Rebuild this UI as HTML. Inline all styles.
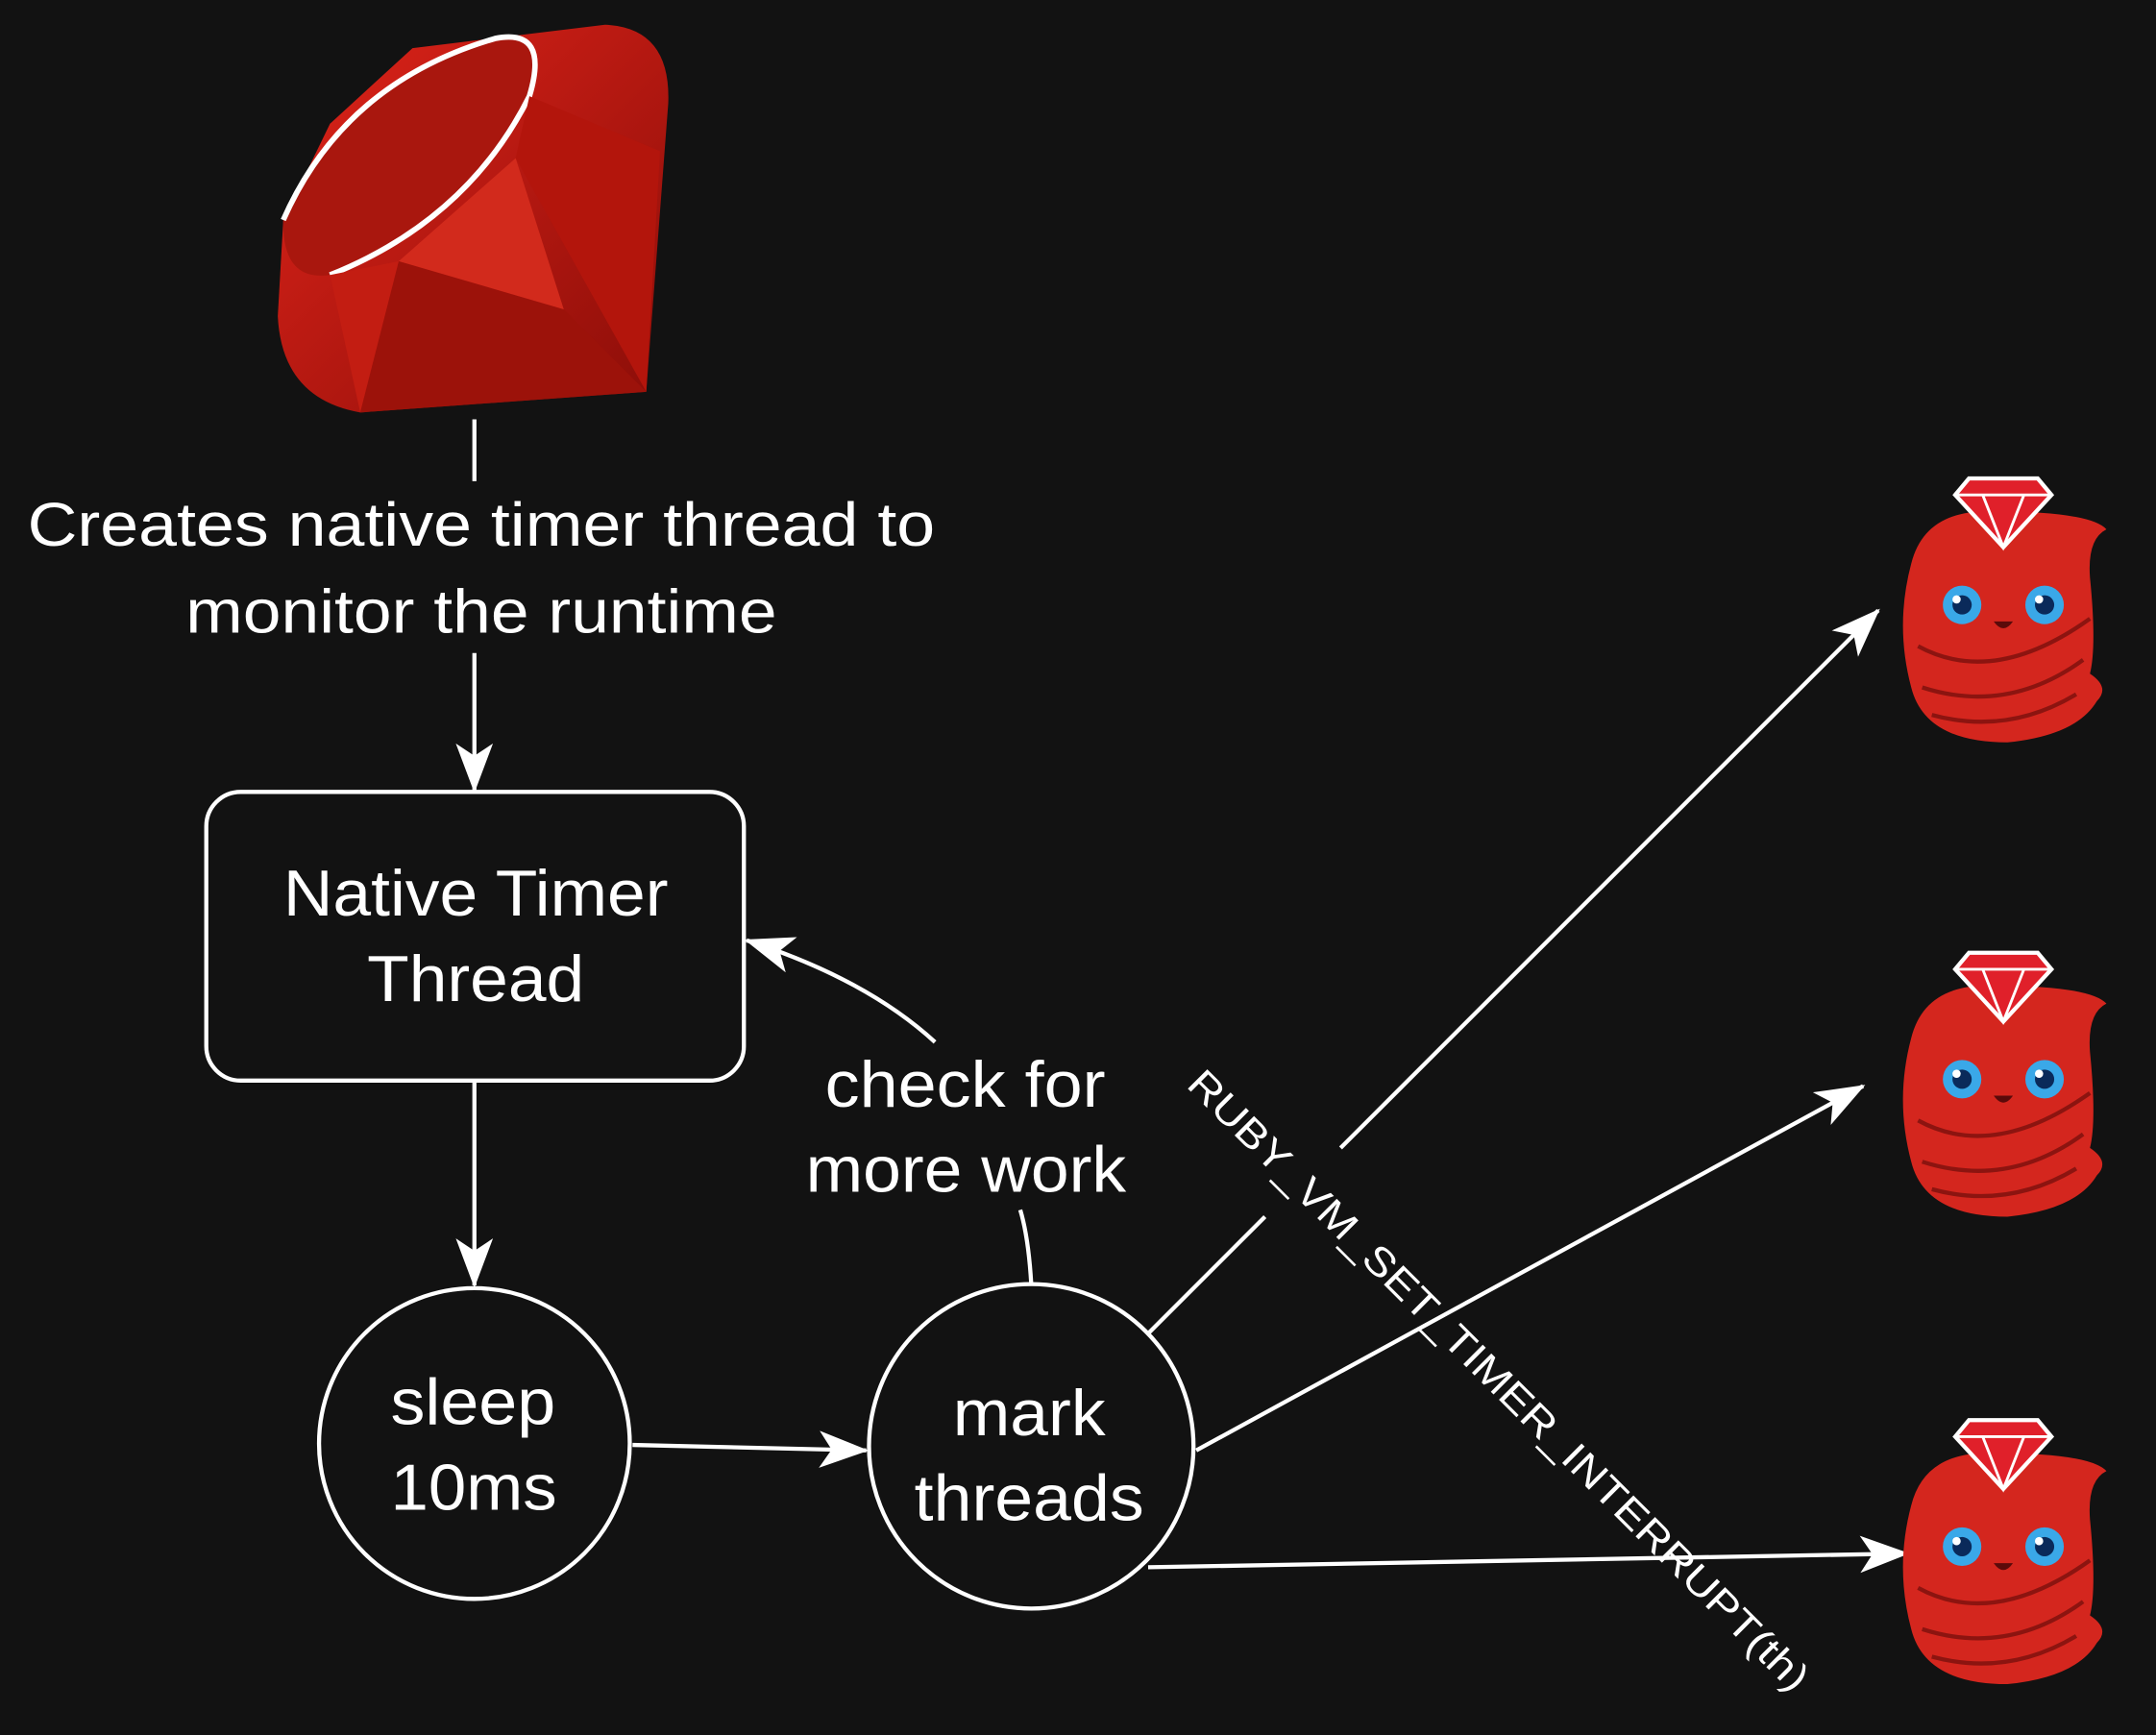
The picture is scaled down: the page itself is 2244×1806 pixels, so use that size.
<!DOCTYPE html>
<html><head><meta charset="utf-8"><style>
html,body{margin:0;padding:0;background:#121212;}
svg{display:block}
text{font-family:"Liberation Sans",Arial,sans-serif;fill:#fff}
</style></head><body>
<svg width="2244" height="1806" viewBox="0 0 1568 1262" xmlns="http://www.w3.org/2000/svg">
<defs>
<marker id="ah" viewBox="0 0 20 15" markerWidth="36" markerHeight="27" refX="19" refY="7.5" orient="auto" markerUnits="userSpaceOnUse">
<path d="M0,0 L20,7.5 L0,15 L5,7.5 Z" fill="#fff"/>
</marker>
<linearGradient id="rg" x1="0" y1="0" x2="1" y2="1">
<stop offset="0" stop-color="#e0241a"/><stop offset="1" stop-color="#8a0d08"/>
</linearGradient>
</defs>
<rect width="1568" height="1262" fill="#121212"/>

<g>
<path d="M300,35 L440,18 Q488,20 486,75 L470,285 L262,300 Q205,290 202,230 L206,160 L240,90 Z" fill="url(#rg)"/>
<path d="M206,160 Q250,60 360,28 Q400,20 385,70 Q340,160 240,200 Q205,205 206,160 Z" fill="#a9170e"/>
<path d="M206,160 Q250,60 360,28 Q400,20 385,70 Q340,160 240,200" fill="none" stroke="#fff" stroke-width="4"/>
<path d="M385,70 L480,110 L470,285 L375,115 Z" fill="#b3150c"/>
<path d="M240,200 L262,300 L290,190 Z" fill="#c31d12"/>
<path d="M290,190 L410,225 L470,285 L262,300 Z" fill="#9c120a"/>
<path d="M375,115 L410,225 L290,190 Z" fill="#d22a1c"/>
</g>

<line x1="345" y1="305" x2="345" y2="350" stroke="#fff" stroke-width="3"/>
<text x="20" y="397" font-size="45" textLength="660" lengthAdjust="spacingAndGlyphs">Creates native timer thread to</text>
<text x="135" y="460" font-size="45" textLength="430" lengthAdjust="spacingAndGlyphs">monitor the runtime</text>
<line x1="345" y1="475" x2="345" y2="575" stroke="#fff" stroke-width="3" marker-end="url(#ah)"/>

<rect x="150" y="576" width="391" height="210" rx="25" fill="#121212" stroke="#fff" stroke-width="3"/>
<text x="206" y="666" font-size="47" textLength="280" lengthAdjust="spacingAndGlyphs">Native Timer</text>
<text x="267" y="728" font-size="47" textLength="158" lengthAdjust="spacingAndGlyphs">Thread</text>

<line x1="345" y1="786" x2="345" y2="935" stroke="#fff" stroke-width="3" marker-end="url(#ah)"/>

<circle cx="345" cy="1050" r="113" fill="#121212" stroke="#fff" stroke-width="3"/>
<text x="284" y="1036" font-size="47" textLength="120" lengthAdjust="spacingAndGlyphs">sleep</text>
<text x="284" y="1098" font-size="47" textLength="121" lengthAdjust="spacingAndGlyphs">10ms</text>

<line x1="460" y1="1051" x2="630" y2="1055" stroke="#fff" stroke-width="3" marker-end="url(#ah)"/>

<circle cx="750" cy="1052" r="118" fill="#121212" stroke="#fff" stroke-width="3"/>
<text x="693" y="1044" font-size="47" textLength="111" lengthAdjust="spacingAndGlyphs">mark</text>
<text x="665" y="1106" font-size="47" textLength="167" lengthAdjust="spacingAndGlyphs">threads</text>

<path d="M750,934 Q748,900 742,880" fill="none" stroke="#fff" stroke-width="3"/>
<path d="M680,758 Q630,712 543,684" fill="none" stroke="#fff" stroke-width="3" marker-end="url(#ah)"/>
<text x="600" y="805" font-size="47" textLength="204" lengthAdjust="spacingAndGlyphs">check for</text>
<text x="586" y="867" font-size="47" textLength="233" lengthAdjust="spacingAndGlyphs">more work</text>

<line x1="835" y1="970" x2="920" y2="885" stroke="#fff" stroke-width="3"/>
<line x1="975" y1="835" x2="1366" y2="444" stroke="#fff" stroke-width="3" marker-end="url(#ah)"/>
<line x1="870" y1="1055" x2="1355" y2="790" stroke="#fff" stroke-width="3" marker-end="url(#ah)"/>
<line x1="835" y1="1140" x2="1387" y2="1130" stroke="#fff" stroke-width="3" marker-end="url(#ah)"/>

<text x="0" y="0" font-size="29" transform="translate(862,790) rotate(45)" textLength="625" lengthAdjust="spacingAndGlyphs">RUBY_VM_SET_TIMER_INTERRUPT(th)</text>

<g id="ch">
<path d="M1390,410 Q1400,370 1450,372 Q1520,372 1532,385 Q1518,392 1520,420 Q1525,470 1520,490 Q1535,500 1525,510 Q1510,535 1460,540 Q1400,540 1390,500 Q1378,455 1390,410 Z" fill="#d4261e"/>
<path d="M1395,470 Q1450,500 1520,450 M1398,500 Q1460,520 1515,480 M1405,520 Q1460,535 1510,505" fill="none" stroke="#8c1410" stroke-width="3"/>
<circle cx="1427" cy="440" r="14" fill="#3aa8e8"/><circle cx="1427" cy="440" r="7" fill="#0a2a5a"/><circle cx="1423" cy="436" r="3" fill="#fff"/>
<circle cx="1487" cy="440" r="14" fill="#3aa8e8"/><circle cx="1487" cy="440" r="7" fill="#0a2a5a"/><circle cx="1483" cy="436" r="3" fill="#fff"/>
<path d="M1450,452 Q1457,462 1464,452 Z" fill="#5a0a0a"/>
<path d="M1422,360 L1432,348 L1482,348 L1492,360 L1457,398 Z" fill="#e0202a" stroke="#fff" stroke-width="3"/>
<path d="M1422,360 L1492,360 M1442,360 L1457,398 L1472,360" fill="none" stroke="#fff" stroke-width="2"/>
</g>
<use href="#ch" y="345"/>
<use href="#ch" y="685"/>
</svg>
</body></html>
